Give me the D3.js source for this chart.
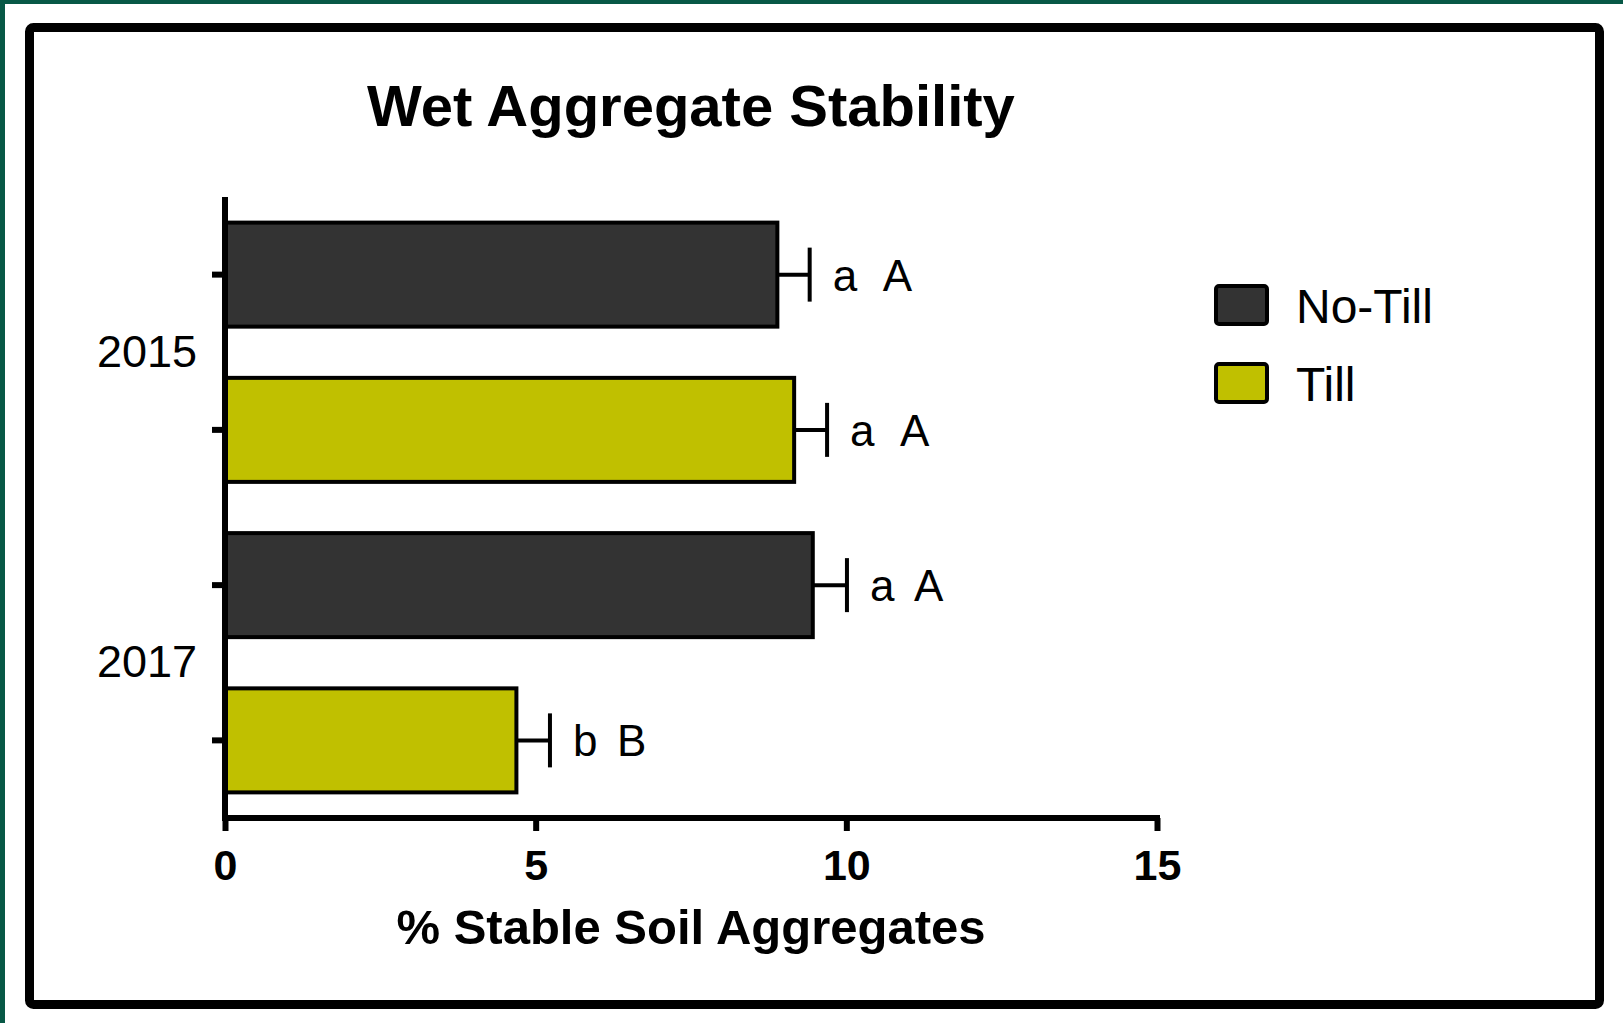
<!DOCTYPE html>
<html>
<head>
<meta charset="utf-8">
<script src="https://cdn.jsdelivr.net/npm/d3@7"></script>
<style>
  html, body { margin: 0; padding: 0; background: #fff; }
  svg { display: block; font-family: "Liberation Sans", Arial, sans-serif; }
</style>
</head>
<body>
<script>
// bars, top to bottom
const years = ["2015", "2017"];
const treatments = ["No-Till", "Till"];
const barKeys = ["2015 No-Till", "2015 Till", "2017 No-Till", "2017 Till"];
const barValues = [8.89, 9.16, 9.46, 4.69];
const barErrors = [0.52, 0.53, 0.55, 0.54];
const sigLower = ["a", "a", "a", "b"];
const sigUpper = ["A", "A", "A", "B"];
const xTicks = [0, 5, 10, 15];

const width = 1623, height = 1023;
const colors = { "No-Till": "#333333", "Till": "#c0c000" };

const svg = d3.select("body").append("svg")
    .attr("width", width)
    .attr("height", height);

// cropped green page edge + black frame
svg.append("rect").attr("x", 0).attr("y", 0).attr("width", width).attr("height", 4).attr("fill", "#075846");
svg.append("rect").attr("x", 0).attr("y", 0).attr("width", 5).attr("height", height).attr("fill", "#075846");
svg.append("rect")
    .attr("x", 29.5).attr("y", 27.5)
    .attr("width", 1570).attr("height", 977)
    .attr("rx", 4)
    .attr("fill", "none")
    .attr("stroke", "#000")
    .attr("stroke-width", 9);

const x = d3.scaleLinear().domain([0, 15]).range([225, 1157]);
const y = d3.scaleBand().domain(barKeys).range([197, 818])
    .paddingInner(0.33).paddingOuter(0.165);

// bars
svg.append("g")
  .selectAll("rect")
  .data(barKeys)
  .join("rect")
    .attr("x", x(0))
    .attr("y", d => y(d))
    .attr("width", (d, i) => x(barValues[i]) - x(0))
    .attr("height", y.bandwidth())
    .attr("fill", (d, i) => colors[treatments[i % 2]])
    .attr("stroke", "#000")
    .attr("stroke-width", 4);

// error bars
const err = svg.append("g").attr("stroke", "#000").attr("stroke-width", 4);
barKeys.forEach((k, i) => {
  const cy = y(k) + y.bandwidth() / 2;
  const x1 = x(barValues[i]), x2 = x(barValues[i] + barErrors[i]);
  err.append("line").attr("x1", x1).attr("x2", x2).attr("y1", cy).attr("y2", cy);
  err.append("line").attr("x1", x2).attr("x2", x2).attr("y1", cy - 27).attr("y2", cy + 27);

  const t = svg.append("text")
      .attr("x", x2 + 23)
      .attr("y", cy + 16)
      .attr("font-size", 44);
  t.append("tspan").text(sigLower[i]);
  t.append("tspan").attr("x", x2 + 23 + (i < 2 ? 50 : 44)).text(sigUpper[i]);
});

// y axis
const yAxis = svg.append("g")
    .attr("transform", `translate(${x(0)},0)`)
    .call(d3.axisLeft(y).tickSize(13).tickSizeOuter(0).tickFormat(""));
yAxis.select(".domain").attr("stroke-width", 6).attr("d", `M0,197V821`);
yAxis.selectAll(".tick line").attr("stroke-width", 6);

svg.append("g")
  .selectAll("text")
  .data(years)
  .join("text")
    .attr("x", 197)
    .attr("y", (d, i) => (y(barKeys[2 * i]) + y(barKeys[2 * i + 1]) + y.bandwidth()) / 2)
    .attr("dy", "0.32em")
    .attr("text-anchor", "end")
    .attr("font-size", 45)
    .text(d => d);

// x axis
const xAxis = svg.append("g")
    .attr("transform", "translate(0,818)")
    .call(d3.axisBottom(x).tickValues(xTicks).tickSize(13).tickSizeOuter(0).tickPadding(18));
xAxis.select(".domain").attr("stroke-width", 6).attr("d", `M${x(0) - 3},0H${x(15) + 3}`);
xAxis.selectAll(".tick line").attr("stroke-width", 6);
xAxis.selectAll(".tick text")
    .attr("font-size", 43)
    .attr("font-weight", "bold")
    .attr("fill", "#000")
    .attr("font-family", "'Liberation Sans', Arial, sans-serif");

svg.append("text")
    .attr("x", 691).attr("y", 944)
    .attr("text-anchor", "middle")
    .attr("font-size", 49)
    .attr("font-weight", "bold")
    .text("% Stable Soil Aggregates");

svg.append("text")
    .attr("x", 691).attr("y", 126)
    .attr("text-anchor", "middle")
    .attr("font-size", 58)
    .attr("font-weight", "bold")
    .text("Wet Aggregate Stability");

// legend
const legend = svg.append("g")
  .selectAll("g")
  .data(treatments)
  .join("g")
    .attr("transform", (d, i) => `translate(1216,${286 + i * 78})`);
legend.append("rect")
    .attr("width", 51).attr("height", 38).attr("rx", 3)
    .attr("fill", d => colors[d])
    .attr("stroke", "#000")
    .attr("stroke-width", 4);
legend.append("text")
    .attr("x", 80).attr("y", 37)
    .attr("font-size", 48)
    .text(d => d);
</script>
</body>
</html>
